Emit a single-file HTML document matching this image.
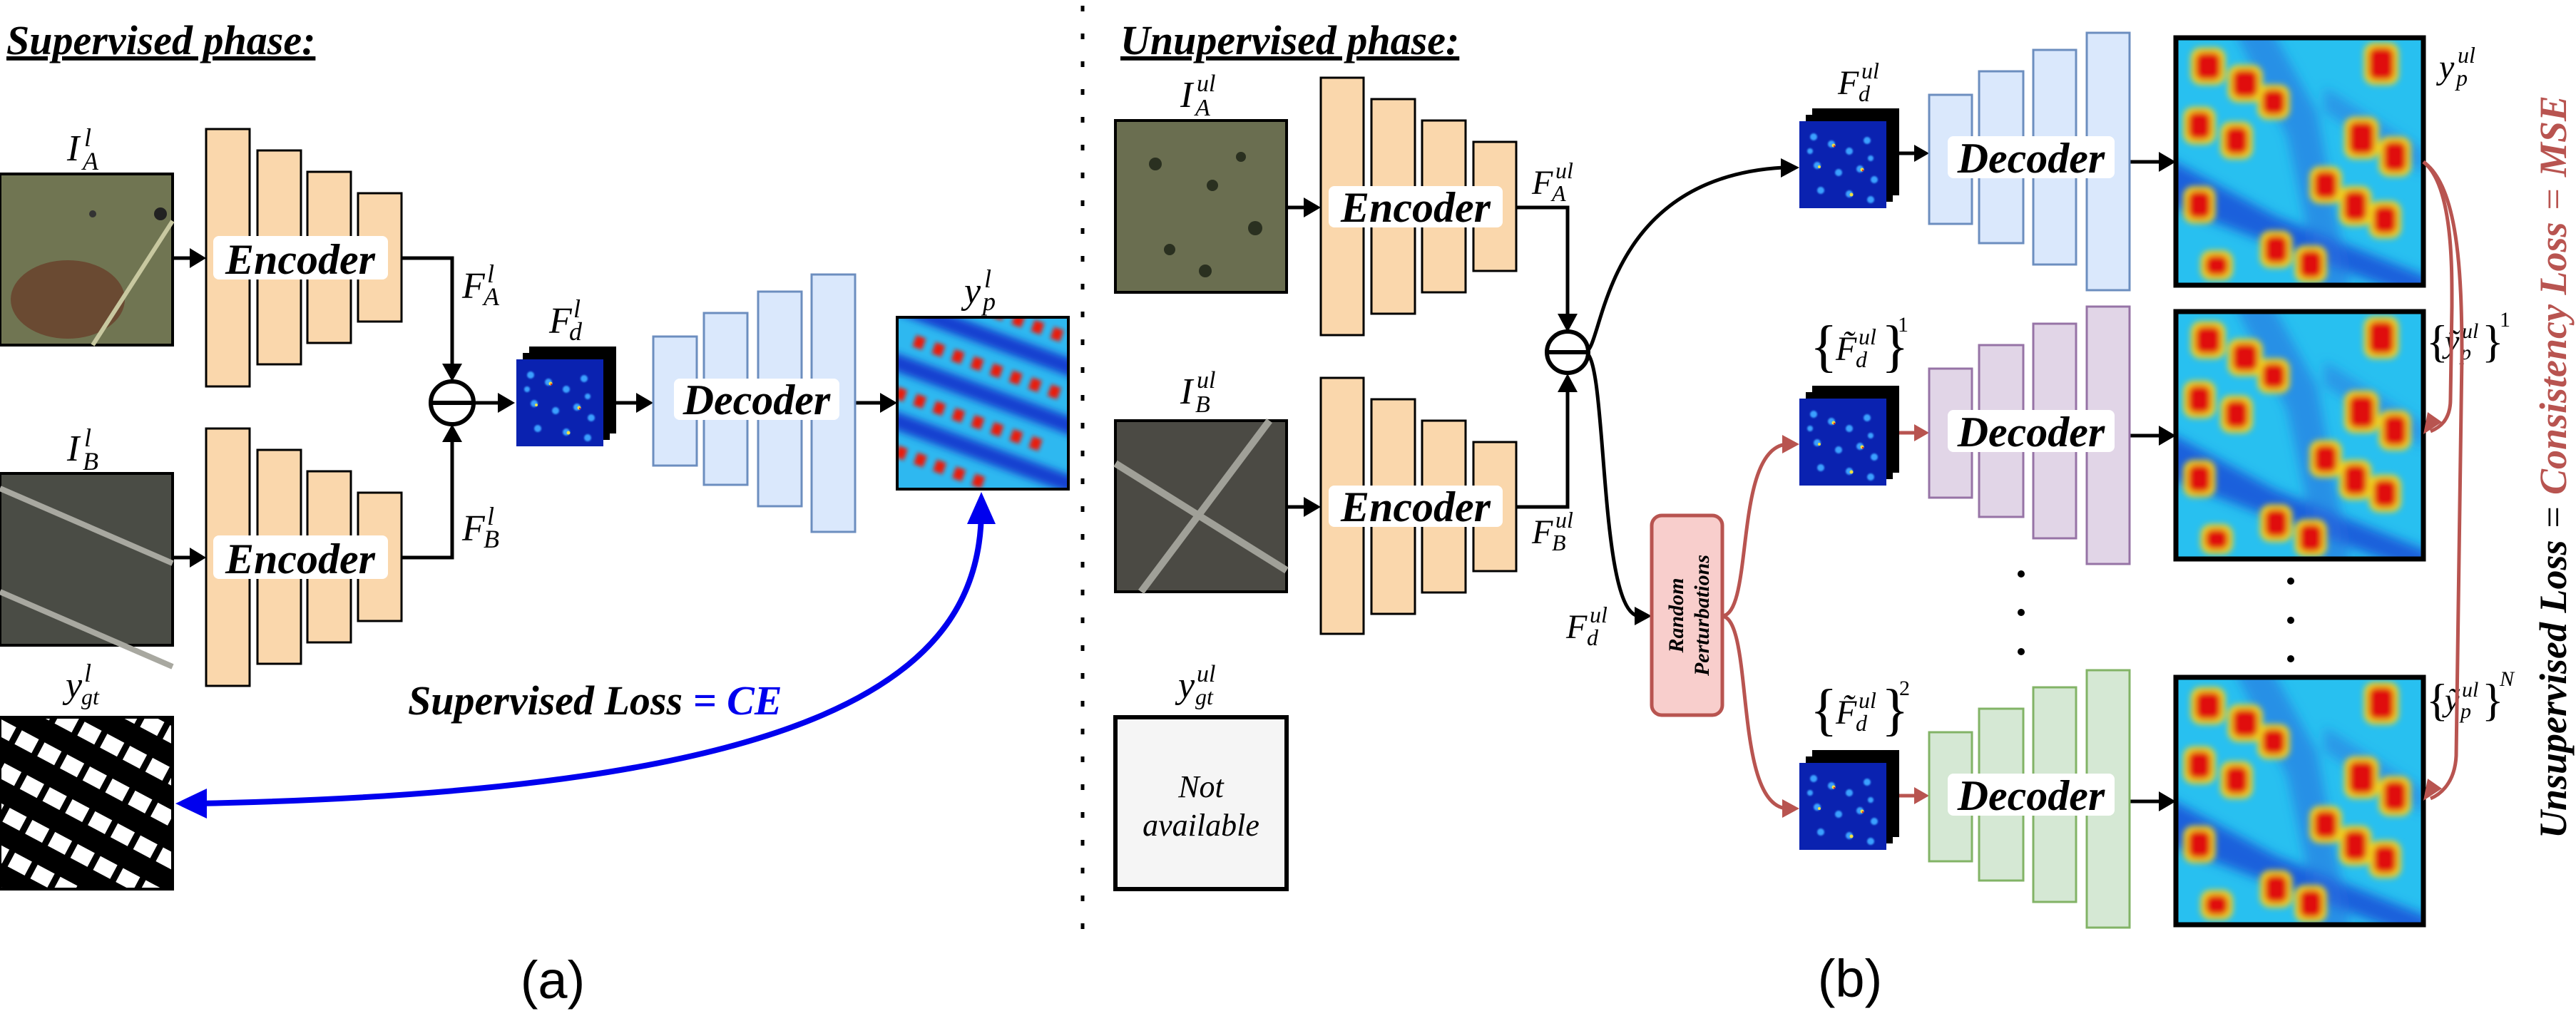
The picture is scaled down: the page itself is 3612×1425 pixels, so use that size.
<!DOCTYPE html>
<html><head><meta charset="utf-8"><style>
html,body{margin:0;padding:0;background:#fff;}
svg{display:block;}
text{font-family:"Liberation Serif",serif;}
</style></head><body>
<svg width="3612" height="1425" viewBox="0 0 3612 1425" xmlns="http://www.w3.org/2000/svg">
<defs>
<filter id="bl" x="-20%" y="-20%" width="140%" height="140%"><feGaussianBlur stdDeviation="2.2"/></filter>
<filter id="bl3" x="-20%" y="-20%" width="140%" height="140%"><feGaussianBlur stdDeviation="1.2"/></filter>
<filter id="bl2"><feGaussianBlur stdDeviation="1"/></filter>
<pattern id="gt" width="36" height="52" patternUnits="userSpaceOnUse" patternTransform="rotate(28)">
<rect width="36" height="52" fill="#000"/><rect x="4" y="6" width="27" height="22" fill="#fff"/>
</pattern>
<symbol id="hmR" viewBox="0 0 100 100" preserveAspectRatio="none">
<rect width="100" height="100" fill="#28c0f0"/>
<g filter="url(#bl)">
<path d="M-10 45 L40 72 L110 100 L110 110 L-10 65Z" fill="#1a50d8" opacity=".85"/>
<path d="M20 -10 L45 40 L60 110 L72 110 L57 30 L35 -10Z" fill="#2a70e0" opacity=".6"/>
<path d="M60 20 L100 45 L100 55 L60 30Z" fill="#2a70e0" opacity=".5"/>
</g>
<g filter="url(#bl3)">
<g fill="#f0d020">
<rect x="6" y="4" width="14" height="15" rx="4"/><rect x="21" y="11" width="14" height="15" rx="4"/><rect x="33" y="19" width="13" height="14" rx="4"/>
<rect x="76" y="2" width="14" height="17" rx="4"/><rect x="3" y="28" width="13" height="15" rx="4"/><rect x="18" y="34" width="13" height="15" rx="4"/>
<rect x="68" y="32" width="14" height="17" rx="4"/><rect x="82" y="40" width="13" height="16" rx="4"/><rect x="3" y="60" width="13" height="15" rx="4"/>
<rect x="54" y="52" width="13" height="15" rx="4"/><rect x="66" y="60" width="13" height="16" rx="4"/><rect x="78" y="66" width="13" height="15" rx="4"/>
<rect x="34" y="78" width="13" height="15" rx="4"/><rect x="48" y="84" width="13" height="15" rx="4"/><rect x="10" y="86" width="13" height="12" rx="4"/>
</g>
<g fill="#e01010">
<rect x="8" y="6" width="10" height="11" rx="3"/><rect x="23" y="13" width="10" height="11" rx="3"/><rect x="35" y="21" width="9" height="10" rx="3"/>
<rect x="78" y="4" width="10" height="13" rx="3"/><rect x="5" y="30" width="9" height="11" rx="3"/><rect x="20" y="36" width="9" height="11" rx="3"/>
<rect x="70" y="34" width="10" height="13" rx="3"/><rect x="84" y="42" width="9" height="12" rx="3"/><rect x="5" y="62" width="9" height="11" rx="3"/>
<rect x="56" y="54" width="9" height="11" rx="3"/><rect x="68" y="62" width="9" height="12" rx="3"/><rect x="80" y="68" width="9" height="11" rx="3"/>
<rect x="36" y="80" width="9" height="11" rx="3"/><rect x="50" y="86" width="9" height="11" rx="3"/><rect x="12" y="88" width="9" height="8" rx="3"/>
</g></g>
</symbol>
<symbol id="hmL" viewBox="0 0 100 100" preserveAspectRatio="none">
<rect width="100" height="100" fill="#2eb8f0"/>
<g filter="url(#bl)" transform="rotate(20 50 50)">
<rect x="-20" y="8" width="140" height="10" fill="#1540d0"/>
<rect x="-20" y="40" width="140" height="10" fill="#1540d0"/>
<rect x="-20" y="72" width="140" height="10" fill="#1540d0"/>
</g>
<g filter="url(#bl3)" transform="rotate(20 50 50)">
<g fill="#e81a10">
<rect x="0" y="26" width="6" height="7"/><rect x="12" y="26" width="6" height="7"/><rect x="24" y="26" width="6" height="7"/><rect x="36" y="26" width="6" height="7"/><rect x="48" y="26" width="6" height="7"/><rect x="60" y="26" width="6" height="7"/><rect x="72" y="26" width="6" height="7"/><rect x="84" y="26" width="6" height="7"/>
<rect x="0" y="58" width="6" height="7"/><rect x="12" y="58" width="6" height="7"/><rect x="24" y="58" width="6" height="7"/><rect x="36" y="58" width="6" height="7"/><rect x="48" y="58" width="6" height="7"/><rect x="60" y="58" width="6" height="7"/><rect x="72" y="58" width="6" height="7"/><rect x="84" y="58" width="6" height="7"/>
<rect x="0" y="90" width="6" height="7"/><rect x="12" y="90" width="6" height="7"/><rect x="24" y="90" width="6" height="7"/><rect x="36" y="90" width="6" height="7"/><rect x="48" y="90" width="6" height="7"/><rect x="60" y="90" width="6" height="7"/>
<rect x="-10" y="-6" width="6" height="7"/><rect x="2" y="-6" width="6" height="7"/><rect x="14" y="-6" width="6" height="7"/><rect x="26" y="-6" width="6" height="7"/><rect x="38" y="-6" width="6" height="7"/><rect x="50" y="-6" width="6" height="7"/><rect x="62" y="-6" width="6" height="7"/><rect x="74" y="-6" width="6" height="7"/><rect x="86" y="-6" width="6" height="7"/><rect x="98" y="-6" width="6" height="7"/>
</g></g>
</symbol>
<symbol id="cube" viewBox="0 0 140 140">
<rect x="18" y="0" width="122" height="122" fill="#000"/>
<rect x="9" y="9" width="122" height="122" fill="#000"/>
<rect x="0" y="18" width="122" height="122" fill="#0a22b0"/>
<g fill="#3aa0ff" filter="url(#bl2)">
<circle cx="20" cy="40" r="5"/><circle cx="45" cy="50" r="5"/><circle cx="70" cy="60" r="5"/><circle cx="95" cy="45" r="5"/>
<circle cx="25" cy="80" r="5"/><circle cx="55" cy="90" r="5"/><circle cx="85" cy="85" r="5"/><circle cx="105" cy="100" r="5"/>
<circle cx="30" cy="115" r="5"/><circle cx="70" cy="120" r="5"/><circle cx="100" cy="128" r="5"/><circle cx="15" cy="60" r="4"/><circle cx="100" cy="70" r="4"/>
</g>
<g fill="#f0e040"><circle cx="48" cy="52" r="2.5"/><circle cx="88" cy="86" r="2.5"/><circle cx="73" cy="121" r="2.5"/><circle cx="28" cy="82" r="2"/></g>
<g fill="#e02020"><circle cx="49" cy="53" r="1.2"/><circle cx="89" cy="87" r="1.2"/></g>
</symbol>
</defs>

<text x="9" y="76" font-size="58" font-weight="bold" font-style="italic" text-decoration="underline">Supervised phase:</text>
<text x="1571" y="76" font-size="58" font-weight="bold" font-style="italic" text-decoration="underline">Unupervised phase:</text>

<line x1="1518" y1="8" x2="1518" y2="1330" stroke="#000" stroke-width="5" stroke-dasharray="8 31"/>

<!-- LEFT -->
<rect x="0" y="244" width="242" height="240" fill="#707552" stroke="#000" stroke-width="4"/>
<ellipse cx="95" cy="420" rx="80" ry="55" fill="#6a4a32"/>
<line x1="130" y1="484" x2="242" y2="310" stroke="#c8c8a0" stroke-width="6"/>
<circle cx="225" cy="300" r="9" fill="#222"/><circle cx="130" cy="300" r="5" fill="#333"/>
<rect x="0" y="664" width="242" height="241" fill="#4a4c45" stroke="#000" stroke-width="4"/>
<g stroke="#a8a8a0" stroke-width="8"><line x1="0" y1="685" x2="242" y2="790"/><line x1="0" y1="830" x2="242" y2="935"/></g>
<rect x="0" y="1006" width="242" height="241" fill="url(#gt)" stroke="#000" stroke-width="4"/>

<text x="94" y="225" font-size="52" font-style="italic">I</text><text x="118" y="205" font-size="36" font-style="italic">l</text><text x="116" y="238" font-size="36" font-style="italic">A</text>
<text x="94" y="646" font-size="52" font-style="italic">I</text><text x="118" y="626" font-size="36" font-style="italic">l</text><text x="116" y="659" font-size="36" font-style="italic">B</text>
<text x="92" y="978" font-size="52" font-style="italic">y</text><text x="118" y="956" font-size="36" font-style="italic">l</text><text x="114" y="988" font-size="32" font-style="italic">gt</text>

<g fill="#fad7ac" stroke="#000" stroke-width="3">
<rect x="289" y="181" width="61" height="361"/><rect x="361" y="211" width="61" height="300"/><rect x="431" y="241" width="61" height="240"/><rect x="502" y="271" width="61" height="180"/>
<rect x="289" y="601" width="61" height="361"/><rect x="361" y="631" width="61" height="300"/><rect x="431" y="661" width="61" height="240"/><rect x="502" y="691" width="61" height="180"/>
</g>
<rect x="299" y="331" width="245" height="61" rx="8" fill="#fff"/>
<rect x="299" y="751" width="245" height="61" rx="8" fill="#fff"/>
<text x="421" y="384" font-size="60" font-weight="bold" font-style="italic" text-anchor="middle">Encoder</text>
<text x="421" y="804" font-size="60" font-weight="bold" font-style="italic" text-anchor="middle">Encoder</text>

<g stroke="#000" stroke-width="5" fill="none">
<line x1="242" y1="362" x2="272" y2="362"/><line x1="242" y1="782" x2="272" y2="782"/>
<polyline points="563,362 634,362 634,520"/><polyline points="563,782 634,782 634,610"/>
<line x1="665" y1="565" x2="702" y2="565"/><line x1="862" y1="565" x2="896" y2="565"/><line x1="1199" y1="565" x2="1238" y2="565"/>
</g>
<g fill="#000">
<polygon points="289,362 266,348 266,376"/><polygon points="289,782 266,768 266,796"/>
<polygon points="634,535 620,510 648,510"/><polygon points="634,595 620,620 648,620"/>
<polygon points="722,565 698,551 698,579"/><polygon points="916,565 892,551 892,579"/><polygon points="1258,565 1234,551 1234,579"/>
</g>
<circle cx="634" cy="565" r="30" fill="#fff" stroke="#000" stroke-width="6"/>
<line x1="606" y1="565" x2="662" y2="565" stroke="#000" stroke-width="6"/>

<text x="648" y="418" font-size="52" font-style="italic">F</text><text x="683" y="396" font-size="36" font-style="italic">l</text><text x="678" y="428" font-size="36" font-style="italic">A</text>
<text x="648" y="758" font-size="52" font-style="italic">F</text><text x="683" y="736" font-size="36" font-style="italic">l</text><text x="678" y="768" font-size="36" font-style="italic">B</text>
<text x="770" y="467" font-size="52" font-style="italic">F</text><text x="804" y="445" font-size="36" font-style="italic">l</text><text x="798" y="477" font-size="36" font-style="italic">d</text>

<use href="#cube" x="724" y="486" width="140" height="140"/>

<g fill="#dae8fc" stroke="#6c8ebf" stroke-width="3">
<rect x="916" y="472" width="61" height="181"/><rect x="987" y="439" width="61" height="241"/><rect x="1063" y="409" width="61" height="301"/><rect x="1138" y="385" width="61" height="361"/>
</g>
<rect x="945" y="531" width="232" height="58" rx="8" fill="#fff"/>
<text x="1061" y="581" font-size="60" font-weight="bold" font-style="italic" text-anchor="middle">Decoder</text>

<use href="#hmL" x="1258" y="445" width="240" height="241"/>
<rect x="1258" y="445" width="240" height="241" fill="none" stroke="#000" stroke-width="4"/>
<text x="1352" y="425" font-size="52" font-style="italic">y</text><text x="1380" y="403" font-size="36" font-style="italic">l</text><text x="1378" y="435" font-size="36" font-style="italic">p</text>

<path d="M1376 715 C1376 950 1150 1110 275 1127" fill="none" stroke="#0000ee" stroke-width="8"/>
<polygon points="1376,690 1356,735 1396,735" fill="#0000ee"/>
<polygon points="246,1127 290,1106 290,1148" fill="#0000ee"/>
<text x="572" y="1002" font-size="58" font-weight="bold" font-style="italic">Supervised Loss <tspan fill="#0000ee">= CE</tspan></text>

<text x="775" y="1400" font-size="74" text-anchor="middle" style="font-family:'Liberation Sans',sans-serif">(a)</text>
<text x="2594" y="1398" font-size="74" text-anchor="middle" style="font-family:'Liberation Sans',sans-serif">(b)</text>

<!-- RIGHT -->
<rect x="1564" y="169" width="240" height="241" fill="#6a6e50" stroke="#000" stroke-width="4"/>
<g fill="#2a3020"><circle cx="1620" cy="230" r="9"/><circle cx="1700" cy="260" r="8"/><circle cx="1760" cy="320" r="10"/><circle cx="1640" cy="350" r="8"/><circle cx="1740" cy="220" r="7"/><circle cx="1690" cy="380" r="9"/></g>
<rect x="1564" y="590" width="240" height="240" fill="#4b4a44" stroke="#000" stroke-width="4"/>
<g stroke="#a0a098" stroke-width="10"><line x1="1600" y1="830" x2="1780" y2="590"/><line x1="1564" y1="650" x2="1804" y2="800"/></g>
<rect x="1564" y="1006" width="240" height="241" fill="#f5f5f5" stroke="#000" stroke-width="6"/>
<text x="1684" y="1118" font-size="44" font-style="italic" text-anchor="middle">Not</text>
<text x="1684" y="1172" font-size="44" font-style="italic" text-anchor="middle">available</text>

<text x="1655" y="150" font-size="52" font-style="italic">I</text><text x="1678" y="128" font-size="34" font-style="italic">ul</text><text x="1676" y="162" font-size="34" font-style="italic">A</text>
<text x="1655" y="566" font-size="52" font-style="italic">I</text><text x="1678" y="544" font-size="34" font-style="italic">ul</text><text x="1676" y="578" font-size="34" font-style="italic">B</text>
<text x="1652" y="978" font-size="52" font-style="italic">y</text><text x="1678" y="956" font-size="34" font-style="italic">ul</text><text x="1676" y="988" font-size="32" font-style="italic">gt</text>

<g fill="#fad7ac" stroke="#000" stroke-width="3">
<rect x="1852" y="109" width="60" height="361"/><rect x="1923" y="139" width="61" height="301"/><rect x="1994" y="169" width="61" height="241"/><rect x="2066" y="199" width="60" height="181"/>
<rect x="1852" y="530" width="60" height="359"/><rect x="1923" y="560" width="61" height="301"/><rect x="1994" y="590" width="61" height="241"/><rect x="2066" y="620" width="60" height="181"/>
</g>
<rect x="1863" y="261" width="244" height="58" rx="8" fill="#fff"/>
<rect x="1863" y="681" width="244" height="58" rx="8" fill="#fff"/>
<text x="1985" y="311" font-size="60" font-weight="bold" font-style="italic" text-anchor="middle">Encoder</text>
<text x="1985" y="731" font-size="60" font-weight="bold" font-style="italic" text-anchor="middle">Encoder</text>

<g stroke="#000" stroke-width="5" fill="none">
<line x1="1804" y1="291" x2="1832" y2="291"/><line x1="1804" y1="711" x2="1832" y2="711"/>
<polyline points="2126,291 2198,291 2198,450"/><polyline points="2126,711 2198,711 2198,540"/>
<path d="M2222 494 C2250 494 2240 250 2500 235"/>
<path d="M2222 494 C2255 494 2240 860 2298 864"/>
<line x1="2663" y1="215" x2="2690" y2="215"/>
<line x1="2986" y1="227" x2="3034" y2="227"/><line x1="2986" y1="611" x2="3034" y2="611"/><line x1="2986" y1="1124" x2="3034" y2="1124"/>
</g>
<g fill="#000">
<polygon points="1852,291 1828,277 1828,305"/><polygon points="1852,711 1828,697 1828,725"/>
<polygon points="2198,466 2184,440 2212,440"/><polygon points="2198,524 2184,550 2212,550"/>
<polygon points="2523,235 2497,222 2497,249"/><polygon points="2316,864 2292,851 2292,877"/>
<polygon points="2705,215 2684,203 2684,227"/>
<polygon points="3051,227 3027,213 3027,241"/><polygon points="3051,611 3027,597 3027,625"/><polygon points="3051,1124 3027,1110 3027,1138"/>
</g>
<circle cx="2198" cy="494" r="29" fill="#fff" stroke="#000" stroke-width="6"/>
<line x1="2171" y1="494" x2="2225" y2="494" stroke="#000" stroke-width="6"/>

<text x="2148" y="272" font-size="48" font-style="italic">F</text><text x="2181" y="250" font-size="32" font-style="italic">ul</text><text x="2176" y="282" font-size="32" font-style="italic">A</text>
<text x="2148" y="762" font-size="48" font-style="italic">F</text><text x="2181" y="740" font-size="32" font-style="italic">ul</text><text x="2176" y="772" font-size="32" font-style="italic">B</text>
<text x="2196" y="895" font-size="48" font-style="italic">F</text><text x="2229" y="873" font-size="32" font-style="italic">ul</text><text x="2225" y="905" font-size="32" font-style="italic">d</text>

<rect x="2316" y="723" width="99" height="280" rx="14" fill="#f8cecc" stroke="#b85450" stroke-width="5"/>
<text transform="translate(2360 863) rotate(-90)" font-size="30" font-weight="bold" font-style="italic" text-anchor="middle">Random</text>
<text transform="translate(2396 863) rotate(-90)" font-size="30" font-weight="bold" font-style="italic" text-anchor="middle">Perturbations</text>
<g stroke="#b85450" stroke-width="5" fill="none">
<path d="M2415 864 C2460 860 2430 630 2505 623"/>
<path d="M2415 864 C2460 870 2430 1128 2505 1134"/>
<line x1="2663" y1="607" x2="2690" y2="607"/><line x1="2663" y1="1116" x2="2690" y2="1116"/>
</g>
<g fill="#b85450">
<polygon points="2523,623 2499,610 2499,636"/><polygon points="2523,1134 2499,1121 2499,1147"/>
<polygon points="2705,607 2684,595 2684,619"/><polygon points="2705,1116 2684,1104 2684,1128"/>
</g>

<use href="#cube" x="2523" y="152" width="140" height="140"/>
<use href="#cube" x="2523" y="541" width="140" height="140"/>
<use href="#cube" x="2523" y="1052" width="140" height="140"/>

<text x="2577" y="132" font-size="48" font-style="italic">F</text><text x="2610" y="110" font-size="32" font-style="italic">ul</text><text x="2606" y="142" font-size="32" font-style="italic">d</text>
<text x="2538" y="512" font-size="80">{</text><text x="2574" y="505" font-size="48" font-style="italic">F̃</text><text x="2606" y="483" font-size="32" font-style="italic">ul</text><text x="2602" y="515" font-size="32" font-style="italic">d</text><text x="2638" y="512" font-size="80">}</text><text x="2661" y="465" font-size="30">1</text>
<text x="2538" y="1022" font-size="80">{</text><text x="2574" y="1015" font-size="48" font-style="italic">F̃</text><text x="2606" y="993" font-size="32" font-style="italic">ul</text><text x="2602" y="1025" font-size="32" font-style="italic">d</text><text x="2638" y="1022" font-size="80">}</text><text x="2663" y="975" font-size="30">2</text>

<g fill="#dae8fc" stroke="#6c8ebf" stroke-width="3">
<rect x="2705" y="133" width="60" height="181"/><rect x="2775" y="100" width="62" height="241"/><rect x="2851" y="70" width="60" height="301"/><rect x="2926" y="46" width="60" height="361"/>
</g>
<g fill="#e1d5e7" stroke="#9673a6" stroke-width="3">
<rect x="2705" y="517" width="60" height="181"/><rect x="2775" y="484" width="62" height="241"/><rect x="2851" y="454" width="60" height="301"/><rect x="2926" y="430" width="60" height="361"/>
</g>
<g fill="#d5e8d4" stroke="#82b366" stroke-width="3">
<rect x="2705" y="1027" width="60" height="181"/><rect x="2775" y="994" width="62" height="241"/><rect x="2851" y="964" width="60" height="301"/><rect x="2926" y="940" width="60" height="361"/>
</g>
<g fill="#fff"><rect x="2731" y="191" width="234" height="59" rx="8"/><rect x="2731" y="575" width="234" height="59" rx="8"/><rect x="2731" y="1085" width="234" height="59" rx="8"/></g>
<g font-size="60" font-weight="bold" font-style="italic" text-anchor="middle">
<text x="2848" y="242">Decoder</text><text x="2848" y="626">Decoder</text><text x="2848" y="1136">Decoder</text>
</g>

<use href="#hmR" x="3051" y="53" width="347" height="347"/>
<use href="#hmR" x="3051" y="437" width="347" height="347"/>
<use href="#hmR" x="3051" y="950" width="347" height="347"/>
<g fill="none" stroke="#000" stroke-width="7">
<rect x="3051" y="53" width="347" height="347"/><rect x="3051" y="437" width="347" height="347"/><rect x="3051" y="950" width="347" height="347"/>
</g>

<g fill="#000">
<circle cx="2834" cy="805" r="5"/><circle cx="2834" cy="859" r="5"/><circle cx="2834" cy="914" r="5"/>
<circle cx="3212" cy="815" r="5"/><circle cx="3212" cy="870" r="5"/><circle cx="3212" cy="924" r="5"/>
</g>

<text x="3420" y="110" font-size="48" font-style="italic">y</text><text x="3446" y="88" font-size="32" font-style="italic">ul</text><text x="3444" y="120" font-size="32" font-style="italic">p</text>
<text x="3402" y="500" font-size="64">{</text><text x="3428" y="494" font-size="46" font-style="italic">ỹ</text><text x="3452" y="474" font-size="30" font-style="italic">ul</text><text x="3450" y="504" font-size="30" font-style="italic">p</text><text x="3480" y="500" font-size="64">}</text><text x="3505" y="458" font-size="30">1</text>
<text x="3402" y="1003" font-size="64">{</text><text x="3428" y="997" font-size="46" font-style="italic">ỹ</text><text x="3452" y="977" font-size="30" font-style="italic">ul</text><text x="3450" y="1007" font-size="30" font-style="italic">p</text><text x="3480" y="1003" font-size="64">}</text><text x="3505" y="962" font-size="30" font-style="italic">N</text>

<g stroke="#b85450" stroke-width="5" fill="none">
<path d="M3398 227 C3440 260 3438 380 3438 430 L3436 560 C3436 590 3420 600 3408 605"/>
<path d="M3398 227 C3446 260 3452 380 3452 500 L3444 1060 C3442 1100 3420 1115 3408 1120"/>
</g>
<g fill="#b85450">
<polygon points="3398,609 3404,578 3424,592"/><polygon points="3398,1123 3404,1092 3424,1106"/>
</g>

<text transform="translate(3598 655) rotate(-90)" font-size="54" font-weight="bold" font-style="italic" text-anchor="middle">Unsupervised Loss <tspan font-weight="normal">=</tspan> <tspan fill="#b85450">Consistency Loss <tspan font-weight="normal">=</tspan> MSE</tspan></text>
</svg>
</body></html>
